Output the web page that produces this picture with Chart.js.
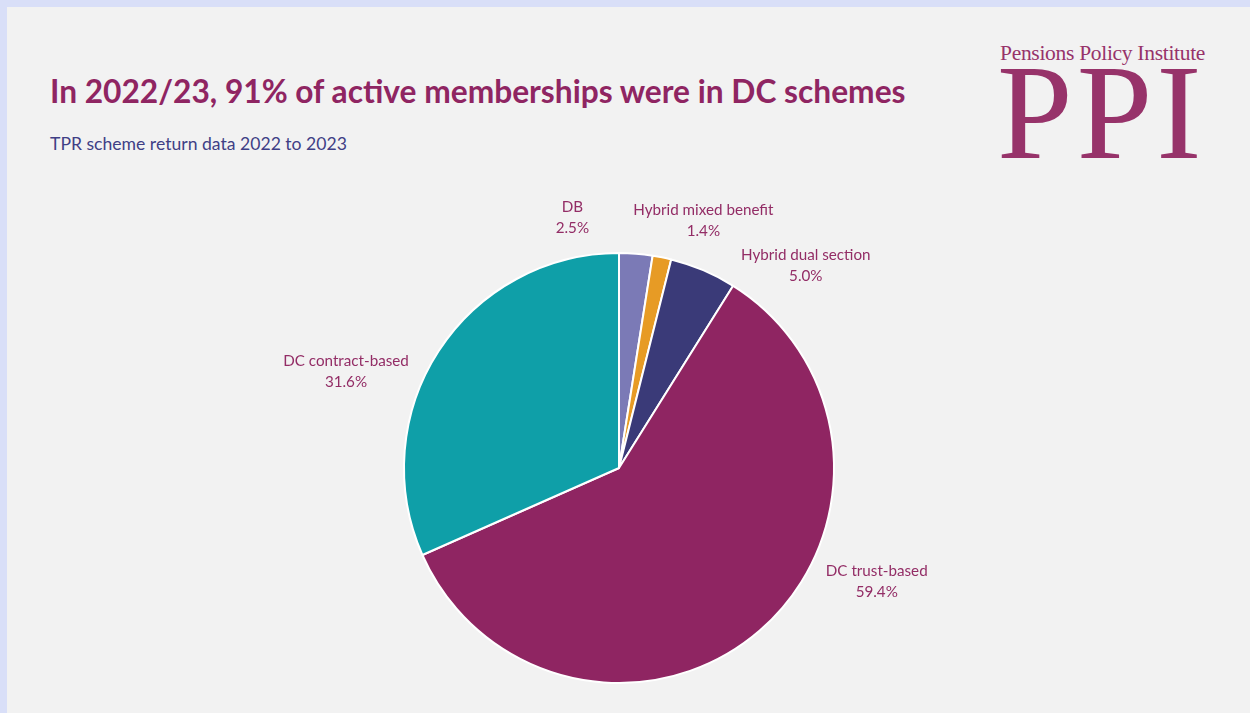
<!DOCTYPE html>
<html>
<head>
<meta charset="utf-8">
<script src="https://cdn.jsdelivr.net/npm/chart.js@4/dist/chart.umd.min.js"></script>
<style>
  html, body { margin: 0; padding: 0; }
  body { width: 1250px; height: 713px; background: #d9dff8; position: relative; overflow: hidden; font-family: Lato, "Open Sans", sans-serif; }
  .panel { position: absolute; left: 7px; top: 7px; right: 0; bottom: 0; background: #f2f2f2; }
  .title { position: absolute; left: 50px; top: 72px; margin: 0; font-size: 31.7px; font-weight: bold; color: #8f2562; white-space: nowrap; }
  .subtitle { position: absolute; left: 50px; top: 133px; font-size: 17.6px; color: #3f3f86; white-space: nowrap; }
  .logo-top { position: absolute; left: 1000px; top: 41px; font-family: "Liberation Serif", "DejaVu Serif", serif; font-size: 21.5px; color: #97336a; white-space: nowrap; letter-spacing: -0.3px; }
  .logo-big { position: absolute; left: 997px; top: 44px; font-family: "Liberation Serif", "DejaVu Serif", serif; font-size: 136px; line-height: 136px; color: #97336a; white-space: nowrap; letter-spacing: 4px; }
  .chart-box { position: absolute; left: 0; top: 0; width: 1250px; height: 713px; }
</style>
</head>
<body>
<div class="panel"></div>
<h1 class="title">In 2022/23, 91% of active memberships were in DC schemes</h1>
<div class="subtitle">TPR scheme return data 2022 to 2023</div>
<div class="logo-top">Pensions Policy Institute</div>
<div class="logo-big">PPI</div>
<div class="chart-box"><canvas id="pieChart"></canvas></div>

<script>
// scheme types, clockwise from 12 o'clock
const categories = ["DB", "Hybrid mixed benefit", "Hybrid dual section", "DC trust-based", "DC contract-based"];
const shares = [2.5, 1.4, 5.0, 59.4, 31.6];
const sliceColors = ["#7b7ab6", "#e79b25", "#3a3a78", "#8f2562", "#0f9fa8"];

// where each label sits relative to the slice's outer edge (px)
const labelNudge = [[-66, -4], [35, -5], [90, 25], [96, -73], [-66, 38]];

const outsideLabels = {
    id: 'outsideLabels',
    afterDatasetsDraw(chart) {
        const ctx = chart.ctx;
        const meta = chart.getDatasetMeta(0);
        ctx.save();
        ctx.font = '15.2px Lato, "Open Sans", sans-serif';
        ctx.fillStyle = '#932d66';
        ctx.textAlign = 'center';
        ctx.textBaseline = 'middle';
        meta.data.forEach((arc, i) => {
            const mid = (arc.startAngle + arc.endAngle) / 2;
            const r = arc.outerRadius + 32;
            const x = arc.x + Math.cos(mid) * r + labelNudge[i][0];
            const y = arc.y + Math.sin(mid) * r + labelNudge[i][1];
            ctx.fillText(categories[i], x, y - 10.5);
            ctx.fillText(shares[i].toFixed(1) + '%', x, y + 10.5);
        });
        ctx.restore();
    }
};

new Chart(document.getElementById('pieChart'), {
    type: 'pie',
    data: {
        labels: categories,
        datasets: [{
            data: shares,
            backgroundColor: sliceColors,
            borderColor: '#ffffff',
            borderWidth: 2
        }]
    },
    options: {
        responsive: true,
        maintainAspectRatio: false,
        animation: false,
        layout: { padding: { left: 403, right: 415, top: 252, bottom: 29 } },
        plugins: {
            legend: { display: false },
            tooltip: { enabled: false }
        }
    },
    plugins: [outsideLabels]
});
</script>
</body>
</html>
